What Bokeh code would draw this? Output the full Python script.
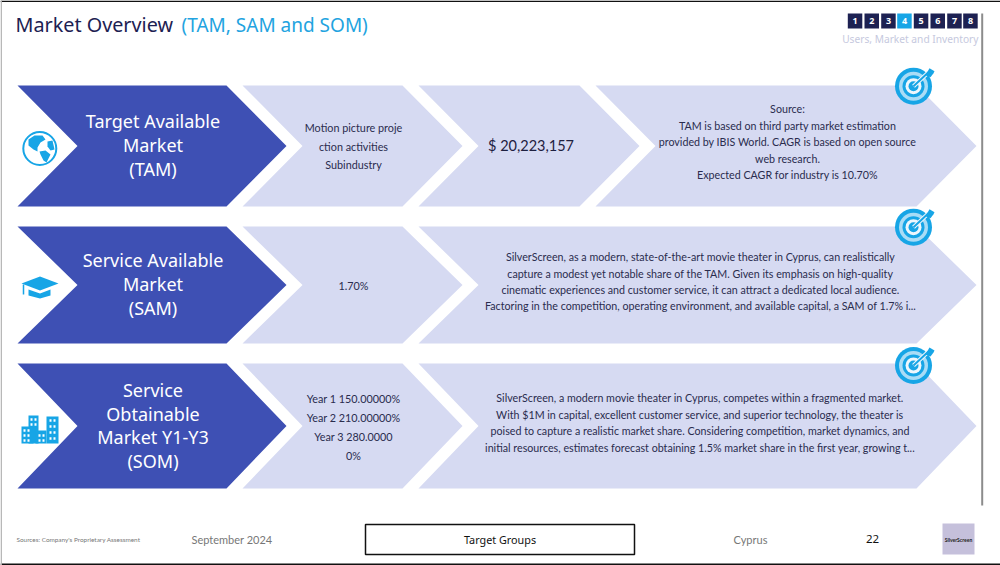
from bokeh.core.properties import value
from bokeh.embed import file_html
from bokeh.models import ColumnDataSource
from bokeh.plotting import figure
from bokeh.resources import INLINE

# slide texts
title_main = "Market Overview"
title_accent = "(TAM, SAM and SOM)"
nav_numbers = ["1", "2", "3", "4", "5", "6", "7", "8"]
nav_active = "4"
nav_label = "Users, Market and Inventory"

row_names = [
    ["Target Available", "Market", "(TAM)"],
    ["Service Available", "Market", "(SAM)"],
    ["Service", "Obtainable", "Market Y1-Y3", "(SOM)"],
]
row_values = [
    ["Motion picture proje", "ction activities", "Subindustry"],
    ["1.70%"],
    ["Year 1 150.00000%", "Year 2 210.00000%", "Year 3 280.0000", "0%"],
]
tam_amount = "$ 20,223,157"
tam_notes = [
    "Source:",
    "TAM is based on third party market estimation",
    "provided by IBIS World. CAGR is based on open source",
    "web research.",
    "Expected CAGR for industry is 10.70%",
]
sam_notes = [
    "SilverScreen, as a modern, state-of-the-art movie theater in Cyprus, can realistically",
    "capture a modest yet notable share of the TAM. Given its emphasis on high-quality",
    "cinematic experiences and customer service, it can attract a dedicated local audience.",
    "Factoring in the competition, operating environment, and available capital, a SAM of 1.7% i...",
]
som_notes = [
    "SilverScreen, a modern movie theater in Cyprus, competes within a fragmented market.",
    "With $1M in capital, excellent customer service, and superior technology, the theater is",
    "poised to capture a realistic market share. Considering competition, market dynamics, and",
    "initial resources, estimates forecast obtaining 1.5% market share in the first year, growing t...",
]
footer_source = "Sources: Company's Proprietary Assessment"
footer_date = "September 2024"
footer_section = "Target Groups"
footer_country = "Cyprus"
footer_page = "22"
logo_text = "SilverScreen"

# colours and fonts
NAVY = "#1d2152"
ACCENT = "#22a3e0"
ICON = "#17a5e6"
DARK = "#3e50b4"
LIGHT = "#d6daf2"
BODY_INK = "#2a2c4e"
HEAD_FONT = "Noto Sans"
BODY_FONT = "Lato"

# layout, in pixels of the slide
rows = [(85, 206), (226, 343), (363, 488)]
DEPTH = 60

p = figure(width=1000, height=565, x_range=(0, 1000), y_range=(565, 0),
           output_backend="svg", toolbar_location=None, tools="",
           min_border=0, outline_line_color=None)
p.axis.visible = False
p.grid.visible = False


def chevron(left, tip, top, bottom):
    mid = (top + bottom) / 2
    shoulder = tip - DEPTH
    xs = [left, shoulder, tip, shoulder, left, left + DEPTH]
    ys = [top, top, mid, bottom, bottom, mid]
    return xs, ys


def text(x, y, lines, size, color, font=BODY_FONT, align="center", style="normal"):
    if isinstance(lines, str):
        lines = [lines]
    xs = x if isinstance(x, list) else [x] * len(lines)
    ys = y if isinstance(y, list) else [y] * len(lines)
    src = ColumnDataSource(dict(x=xs, y=ys, t=lines))
    p.text("x", "y", "t", source=src, text_font=value(font), text_font_size=size, text_color=color,
           text_align=align, text_baseline="middle", text_font_style=style)


def target(cx, cy):
    p.circle([cx], [cy], radius=18.5, fill_color=ICON, line_color=None)
    p.circle([cx], [cy], radius=14.5, fill_color="#a9dcf6", line_color=None)
    p.circle([cx], [cy], radius=11, fill_color=ICON, line_color=None)
    p.circle([cx], [cy], radius=8, fill_color="#eef7fd", line_color=None)
    p.circle([cx], [cy], radius=5, fill_color=ICON, line_color=None)
    p.segment([cx], [cy], [cx + 15], [cy - 14], line_color="#eef7fd", line_width=4)
    p.segment([cx], [cy], [cx + 15], [cy - 14], line_color=ICON, line_width=2)
    p.patch([cx + 12, cx + 16, cx + 21, cx + 20, cx + 17], [cy - 11, cy - 18, cy - 15, cy - 13, cy - 9],
            fill_color=ICON, line_color=None)


# frame of the slide
p.segment([0, 0], [0.7, 563.8], [1000, 1000], [0.7, 563.8], line_color="#111111", line_width=1.5)
p.segment([0.7], [0], [0.7], [565], line_color="#b5b5b5", line_width=1.5)

# chevrons
dark_x, dark_y, light_x, light_y = [], [], [], []
for i, (top, bottom) in enumerate(rows):
    x, y = chevron(17, 286, top, bottom)
    dark_x.append(x)
    dark_y.append(y)
    tips = [(242, 462), (418, 639), (595, 976)] if i == 0 else [(242, 462), (418, 976)]
    for left, tip in tips:
        x, y = chevron(left, tip, top, bottom)
        light_x.append(x)
        light_y.append(y)
p.patches(dark_x, dark_y, fill_color=DARK, line_color=None)
p.patches(light_x, light_y, fill_color=LIGHT, line_color=None)

# title and navigation
text(15, 24, title_main, "19.8px", NAVY, HEAD_FONT, "left")
text(181, 24, title_accent, "19px", ACCENT, HEAD_FONT, "left")

nav_left = [847.3, 864, 880.7, 896.7, 913.3, 930, 946.7, 962.7]
nav_colors = [ICON if n == nav_active else NAVY for n in nav_numbers]
p.quad(left=nav_left, right=[v + 14.5 for v in nav_left], top=[13] * 8, bottom=[28] * 8,
       fill_color=nav_colors, line_color=None)
text([v + 7.25 for v in nav_left], [20.5] * 8, nav_numbers, "9px", "#ffffff", HEAD_FONT, style="bold")
text(978, 38, nav_label, "10.2px", "#c6c9de", HEAD_FONT, "right")
p.segment([981.7], [13], [981.7], [505], line_color="#8c8c8c", line_width=2)

# row labels
text(152.5, [120, 144, 168], row_names[0], "18px", "#ffffff", HEAD_FONT)
text(152.5, [259, 283, 307], row_names[1], "18px", "#ffffff", HEAD_FONT)
text(152.5, [389, 413, 436, 460], row_names[2], "18px", "#ffffff", HEAD_FONT)

# row values
text(353, [127, 146, 164], row_values[0], "10.8px", BODY_INK)
text(353, [285], row_values[1], "10.8px", BODY_INK)
text(353, [398, 417, 436, 454.6], row_values[2], "10.8px", BODY_INK)
text(530.5, [145], tam_amount, "14.5px", "#1e2040")
text(787, [108, 125, 141, 157.7, 174], tam_notes, "10.7px", BODY_INK)
text(700, [255.7, 272.7, 288.7, 305], sam_notes, "10.7px", BODY_INK)
text(699.5, [397, 413.7, 429.7, 446.5], som_notes, "10.7px", BODY_INK)

# icons: globe
p.circle([39.3], [148], radius=16.5, fill_color="#ffffff", line_color=ICON, line_width=2)
p.patches([[28, 34, 42, 45, 40, 37, 37, 33, 28], [39, 45, 50, 46, 43, 40], [47, 52, 54, 50, 47]],
          [[139, 135, 135, 139, 142, 147, 151, 149, 145], [151, 150, 154, 162, 160, 154],
           [141, 140, 149, 150, 146]],
          fill_color=ICON, line_color=None)

# icons: graduation cap
p.patch([21, 39.5, 58, 39.5], [283, 276, 283, 290], fill_color=ICON, line_color=None)
p.patch([28, 39.5, 50, 50, 39.5, 28], [289, 293, 289, 295, 298, 295], fill_color=ICON, line_color=None)
p.segment([23], [284], [23], [294], line_color=ICON, line_width=1.5)

# icons: buildings
p.quad(left=[21, 28, 35, 46], right=[33, 38, 46, 58], top=[426, 415, 430, 416], bottom=[443] * 4,
       fill_color=ICON, line_color=None)
win_x = [24, 28, 24, 28, 24, 28, 31, 35, 31, 35, 39, 43, 39, 43, 50, 54, 50, 54, 50, 54, 50, 54]
win_y = [430, 430, 435, 435, 440, 440, 419, 419, 424, 424, 435, 435, 440, 440, 420, 420, 426, 426, 432, 432, 438, 438]
p.rect(win_x, win_y, width=2, height=2.4, fill_color="#ffffff", line_color=None)

# icons: targets
target(913, 85.7)
target(913, 226.7)
target(913, 365)

# footer
text(16, 539, footer_source, "6.4px", "#777777", BODY_FONT, "left")
text(191, 539, footer_date, "11px", "#777777", BODY_FONT, "left")
p.quad(left=[365], right=[634], top=[524], bottom=[554], fill_color="#ffffff", line_color="#111111", line_width=1.5)
text(499.5, 539, footer_section, "10.8px", "#111111", HEAD_FONT)
text(733, 539, footer_country, "11px", "#777777", BODY_FONT, "left")
text(872, 538.5, footer_page, "11.5px", "#111111", HEAD_FONT)
p.quad(left=[942], right=[974], top=[523], bottom=[554], fill_color="#c5c0db", line_color=None)
text(958, 539, logo_text, "5px", "#222222", BODY_FONT, style="bold")

open("out.html", "w").write(file_html(p, INLINE))
